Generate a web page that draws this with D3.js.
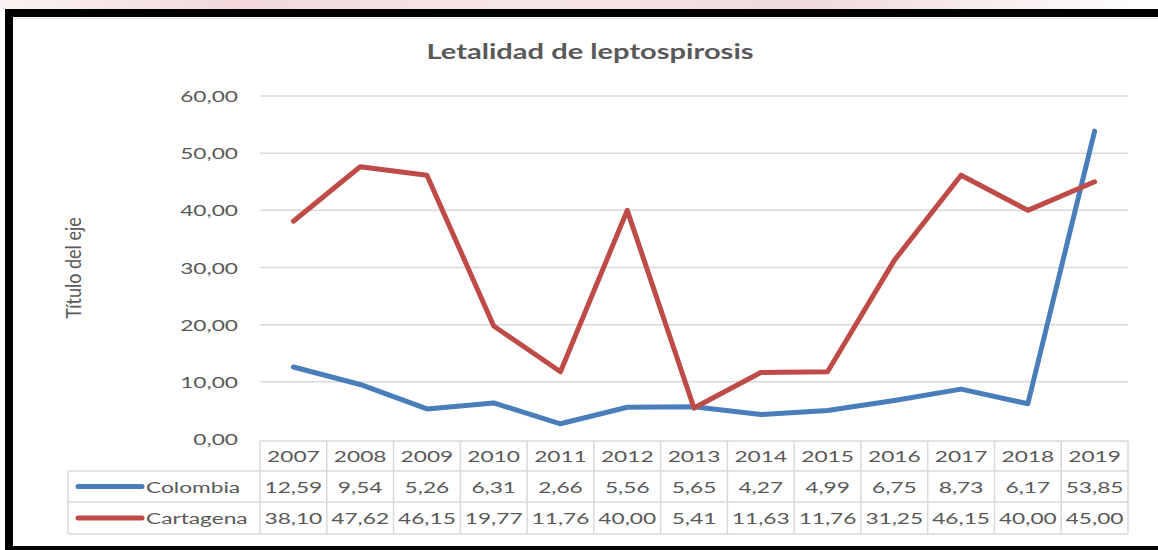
<!DOCTYPE html>
<html>
<head>
<meta charset="utf-8">
<script src="https://cdn.jsdelivr.net/npm/d3@7"></script>
<style>
  html, body { margin: 0; padding: 0; background: #fff; }
  svg { display: block; font-family: Lato, "Open Sans", sans-serif; }
</style>
</head>
<body>
<svg id="chart"></svg>
<script>
// chart data
const years = ["2007", "2008", "2009", "2010", "2011", "2012", "2013", "2014", "2015", "2016", "2017", "2018", "2019"];
const colombia = [12.59, 9.54, 5.26, 6.31, 2.66, 5.56, 5.65, 4.27, 4.99, 6.75, 8.73, 6.17, 53.85];
const cartagena = [38.10, 47.62, 46.15, 19.77, 11.76, 40.00, 5.41, 11.63, 11.76, 31.25, 46.15, 40.00, 45.00];
const seriesNames = ["Colombia", "Cartagena"];
const yTicks = [0, 10, 20, 30, 40, 50, 60];

const width = 1158, height = 550;
const SX = 1.42; // the source picture is stretched sideways
const textColor = "#595959";
const colors = ["#4a7ebb", "#be4b48"];

const plot = { left: 260, right: 1128, top: 96, bottom: 439 };
const rowH = [30, 31, 32];
const legendLeft = 68;

const locale = d3.formatLocale({ decimal: ",", thousands: ".", grouping: [3], currency: ["", ""] });
const fmt = locale.format(".2f");

const svg = d3.select("#chart")
  .attr("width", width)
  .attr("height", height);

// background strip + frame
const defs = svg.append("defs");
const grad = defs.append("linearGradient").attr("id", "topStrip");
grad.append("stop").attr("offset", "0%").attr("stop-color", "#fbf3f3");
grad.append("stop").attr("offset", "20%").attr("stop-color", "#f1d9da");
grad.append("stop").attr("offset", "45%").attr("stop-color", "#f7e6e6");
grad.append("stop").attr("offset", "70%").attr("stop-color", "#f0dadb");
grad.append("stop").attr("offset", "100%").attr("stop-color", "#ffffff");
svg.append("rect").attr("x", 0).attr("y", 0).attr("width", width).attr("height", 9).attr("fill", "url(#topStrip)");
svg.append("rect").attr("x", 5).attr("y", 9).attr("width", width - 5).attr("height", 8).attr("fill", "#000");
svg.append("rect").attr("x", 5).attr("y", 9).attr("width", 8).attr("height", height - 9).attr("fill", "#000");
svg.append("rect").attr("x", 5).attr("y", 546).attr("width", width - 5).attr("height", 4).attr("fill", "#000");
svg.append("line").attr("x1", 13).attr("x2", width).attr("y1", 18.5).attr("y2", 18.5)
  .attr("stroke", "#e3e3e3").attr("stroke-width", 1);

function label(g, x, y, s, anchor) {
  return g.append("text")
    .attr("transform", `translate(${x},${y}) scale(${SX},1)`)
    .attr("text-anchor", anchor)
    .attr("dominant-baseline", "central")
    .attr("fill", textColor)
    .attr("font-size", 16)
    .text(s);
}

const x = d3.scaleBand().domain(years).range([plot.left, plot.right]).padding(0);
const y = d3.scaleLinear().domain([0, 60]).range([plot.bottom, plot.top]);

// title
label(svg, 590, 51, "Letalidad de leptospirosis", "middle")
  .attr("font-size", 20.5)
  .attr("font-weight", "bold");

// y axis title
svg.append("text")
  .attr("transform", `translate(72,268) scale(1.2,1) rotate(-90)`)
  .attr("text-anchor", "middle")
  .attr("dominant-baseline", "central")
  .attr("fill", textColor)
  .attr("font-size", 18)
  .text("Título del eje");

// gridlines + tick labels
const grid = svg.append("g");
yTicks.forEach(t => {
  if (t > 0) {
    grid.append("line")
      .attr("x1", plot.left).attr("x2", plot.right)
      .attr("y1", y(t)).attr("y2", y(t))
      .attr("stroke", "#d9d9d9").attr("stroke-width", 1.5);
  }
  label(grid, 238, y(t), fmt(t), "end");
});

// data table
const table = svg.append("g");
const rowTop = [plot.bottom + 2];
rowH.forEach((h, i) => rowTop.push(rowTop[i] + h));
const border = "#d9d9d9";

// horizontal rules
rowTop.forEach((ty, i) => {
  table.append("line")
    .attr("x1", i === 0 ? plot.left : legendLeft).attr("x2", plot.right)
    .attr("y1", ty).attr("y2", ty)
    .attr("stroke", border).attr("stroke-width", 1.5);
});
// vertical rules
years.forEach(yr => {
  table.append("line")
    .attr("x1", x(yr)).attr("x2", x(yr))
    .attr("y1", rowTop[0]).attr("y2", rowTop[3])
    .attr("stroke", border).attr("stroke-width", 1.5);
});
table.append("line").attr("x1", plot.right).attr("x2", plot.right)
  .attr("y1", rowTop[0]).attr("y2", rowTop[3])
  .attr("stroke", border).attr("stroke-width", 1.5);
table.append("line").attr("x1", legendLeft).attr("x2", legendLeft)
  .attr("y1", rowTop[1]).attr("y2", rowTop[3])
  .attr("stroke", border).attr("stroke-width", 1.5);

const cx = d => x(d) + x.bandwidth() / 2;
const rowMid = i => (rowTop[i] + rowTop[i + 1]) / 2;

years.forEach(yr => label(table, cx(yr), rowMid(0), yr, "middle"));

[colombia, cartagena].forEach((vals, s) => {
  const my = rowMid(s + 1);
  table.append("line")
    .attr("x1", legendLeft + 10).attr("x2", 142)
    .attr("y1", my).attr("y2", my)
    .attr("stroke", colors[s]).attr("stroke-width", 5)
    .attr("stroke-linecap", "round");
  label(table, 146, my, seriesNames[s], "start");
  vals.forEach((v, i) => label(table, cx(years[i]), my, fmt(v), "middle"));
});

// lines
const line = d3.line()
  .x((d, i) => cx(years[i]))
  .y(d => y(d));

svg.append("g")
  .selectAll("path")
  .data([colombia, cartagena])
  .join("path")
  .attr("d", d => line(d))
  .attr("fill", "none")
  .attr("stroke", (d, i) => colors[i])
  .attr("stroke-width", 5)
  .attr("stroke-linejoin", "round")
  .attr("stroke-linecap", "round");
</script>
</body>
</html>
